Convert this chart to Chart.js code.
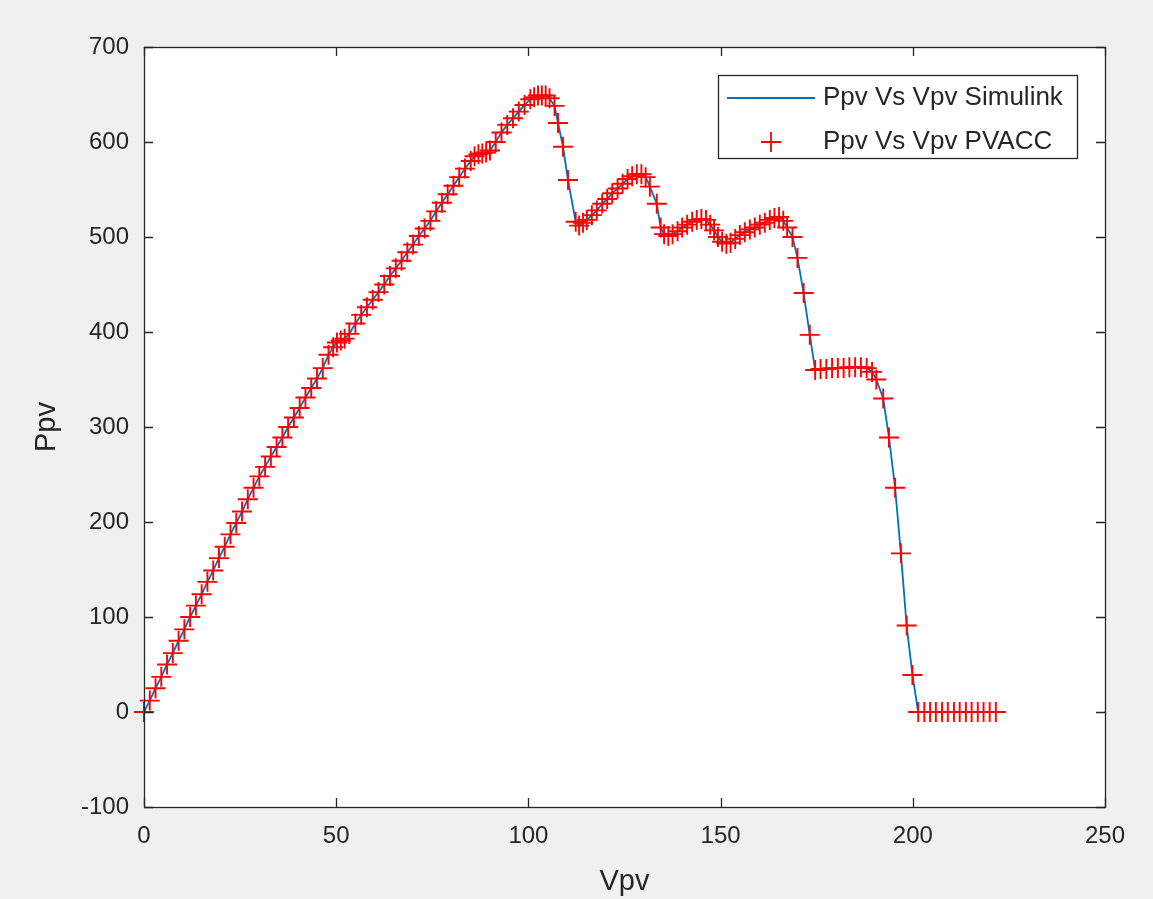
<!DOCTYPE html>
<html>
<head>
<meta charset="utf-8">
<title>Ppv Vs Vpv</title>
<script src="https://cdn.jsdelivr.net/npm/chart.js@4.4.0/dist/chart.umd.min.js"></script>
<style>
    html, body { margin: 0; padding: 0; background: #f0f0f0; }
    #wrap { width: 1153px; height: 899px; }
</style>
</head>
<body>
<div id="wrap"><canvas id="pv_chart"></canvas></div>
<script>
// PV array sweep: voltage (V) and power (W)
var vpv = [
    0, 1.5, 3, 4.5, 6, 7.5, 9, 10.5, 12, 13.5, 15, 16.5, 18, 19.5, 21, 22.5, 24, 25.5, 27, 28.5,
    30, 31.5, 33, 34.5, 36, 37.5, 39, 40.5, 42, 43.5, 45, 46.5, 48, 49.2, 50.2, 51.2, 52.2, 53.4,
    55, 56.5, 58, 59.5, 61, 62.5, 64, 65.5, 67, 68.5, 70, 71.5, 73, 74.5, 76, 77.5, 79, 80.5, 82, 83.5, 85, 86, 87, 88, 89, 90,
    91.5, 93, 94.5, 96, 97.5, 99, 100.5, 101.5, 102.5, 103.5, 104.5, 105.5, 106.8, 107.7, 109, 110.3, 112.3, 113.2, 114.2,
    115.2, 116.5, 117.8, 119.2, 120.5, 121.8, 123.2, 124.5, 125.8, 127, 128.2, 129.4, 130.5, 131.6, 133.4, 134.4,
    135.3, 136.4, 137.5, 138.8, 140, 141.3, 142.6, 143.8, 145, 146.2, 147.3, 148.3, 149.3, 150.4, 151.5, 152.6,
    153.8, 155, 156.3, 157.6, 158.9, 160.2, 161.5, 162.8, 164, 165.2, 166.3, 167.3, 168.7, 170, 171.6, 173.2, 174.6,
    176, 177.5, 179, 180.5, 182, 183.5, 185, 186.5, 188, 189.4, 190.5, 192.3, 193.8, 195.4, 196.9, 198.4, 199.9,
    201.4, 203, 204.5, 206, 207.6, 209.1, 210.7, 212.2, 213.8, 215.3, 216.9, 218.4, 220, 221.6
];
var ppv = [
    0, 12, 25, 37, 50, 62, 75, 87, 100, 112, 124, 137, 149, 162, 174, 187, 199, 211, 224, 236,
    248, 258, 269, 279, 289, 300, 310, 320, 331, 341, 351, 362, 376, 384, 389, 391, 393, 398,
    409, 418, 426, 434, 442, 450, 459, 467, 475, 484, 492, 501, 509, 517, 527, 536, 545, 554, 563, 572, 580, 585, 587, 588, 589, 591,
    600, 610, 618, 625, 632, 639, 645, 647, 649, 649, 649, 646, 638, 620, 595, 560, 516, 512, 515,
    518, 523, 528, 535, 540, 546, 551, 556, 561, 564, 566, 566, 563, 553, 535, 510,
    503, 501, 503, 506, 510, 513, 516, 518, 519, 518, 513, 507, 500, 495, 493, 494,
    498, 502, 505, 508, 510, 513, 515, 518, 520, 521, 517, 510, 500, 478, 441, 397, 360,
    361, 361, 362, 362, 362, 363, 363, 363, 362, 358, 350, 330, 289, 236, 167, 91, 39,
    0, 0, 0, 0, 0, 0, 0, 0, 0, 0, 0, 0, 0, 0
];

var seriesNames = ['Ppv Vs Vpv Simulink', 'Ppv Vs Vpv PVACC'];
var xTitle = 'Vpv';
var yTitle = 'Ppv';
var xRange = [0, 250], xStep = 50;
var yRange = [-100, 700], yStep = 100;

var lineColor = '#0072bd';
var markerColor = '#ff0000';
var axisColor = '#262626';
var fontFamily = '"Liberation Sans", Arial, Helvetica, sans-serif';

var points = vpv.map(function (v, i) { return { x: v, y: ppv[i] }; });

// white plot box, frame and inward ticks on all four sides
var axesBox = {
    id: 'axesBox',
    beforeDraw: function (chart) {
        var a = chart.chartArea, ctx = chart.ctx;
        ctx.save();
        ctx.fillStyle = '#ffffff';
        ctx.fillRect(a.left, a.top, a.right - a.left, a.bottom - a.top);
        ctx.restore();
    },
    afterDatasetsDraw: function (chart) {
        var a = chart.chartArea, ctx = chart.ctx;
        var sx = chart.scales.x, sy = chart.scales.y;
        var len = 9;
        ctx.save();
        ctx.strokeStyle = axisColor;
        ctx.lineWidth = 1.3;
        ctx.beginPath();
        sx.ticks.forEach(function (t) {
            var px = Math.round(sx.getPixelForValue(t.value)) + 0.5;
            ctx.moveTo(px, a.bottom); ctx.lineTo(px, a.bottom - len);
            ctx.moveTo(px, a.top); ctx.lineTo(px, a.top + len);
        });
        sy.ticks.forEach(function (t) {
            var py = Math.round(sy.getPixelForValue(t.value)) + 0.5;
            ctx.moveTo(a.left, py); ctx.lineTo(a.left + len, py);
            ctx.moveTo(a.right, py); ctx.lineTo(a.right - len, py);
        });
        ctx.stroke();
        ctx.strokeRect(a.left + 0.5, a.top + 0.5, a.right - a.left, a.bottom - a.top);
        ctx.restore();
    }
};

// boxed legend in the upper right corner of the axes
var boxLegend = {
    id: 'boxLegend',
    afterDraw: function (chart) {
        var a = chart.chartArea, ctx = chart.ctx;
        var w = 359, h = 83;
        var right = a.right - 28, top = a.top + 28, left = right - w;
        ctx.save();
        ctx.fillStyle = '#ffffff';
        ctx.fillRect(left, top, w, h);
        ctx.strokeStyle = axisColor;
        ctx.lineWidth = 1.3;
        ctx.strokeRect(left + 0.5, top + 0.5, w, h);

        var row1 = top + 23, row2 = top + 67;
        ctx.strokeStyle = lineColor;
        ctx.lineWidth = 2;
        ctx.beginPath();
        ctx.moveTo(left + 9, row1); ctx.lineTo(left + 97, row1);
        ctx.stroke();

        var cx = left + 53;
        ctx.strokeStyle = markerColor;
        ctx.lineWidth = 1.8;
        ctx.beginPath();
        ctx.moveTo(cx - 10, row2); ctx.lineTo(cx + 10, row2);
        ctx.moveTo(cx, row2 - 10); ctx.lineTo(cx, row2 + 10);
        ctx.stroke();

        ctx.fillStyle = axisColor;
        ctx.font = '26px ' + fontFamily;
        ctx.textBaseline = 'middle';
        ctx.textAlign = 'left';
        ctx.fillText(seriesNames[0], left + 105, row1);
        ctx.fillText(seriesNames[1], left + 105, row2);
        ctx.restore();
    }
};

new Chart(document.getElementById('pv_chart'), {
    type: 'scatter',
    data: {
        datasets: [
            {
                label: seriesNames[0],
                data: points,
                showLine: true,
                borderColor: lineColor,
                borderWidth: 1.8,
                pointRadius: 0,
                tension: 0,
                clip: false,
                order: 2
            },
            {
                label: seriesNames[1],
                data: points,
                showLine: false,
                pointStyle: 'cross',
                pointRadius: 10,
                pointBorderWidth: 1.9,
                pointBorderColor: markerColor,
                pointBackgroundColor: markerColor,
                clip: false,
                order: 1
            }
        ]
    },
    options: {
        responsive: true,
        maintainAspectRatio: false,
        animation: false,
        layout: { padding: { top: 47, right: 48, left: 0, bottom: 0 } },
        plugins: {
            legend: { display: false },
            tooltip: { enabled: false }
        },
        scales: {
            x: {
                type: 'linear',
                min: xRange[0],
                max: xRange[1],
                ticks: { stepSize: xStep, color: axisColor, font: { family: fontFamily, size: 24 }, padding: 15 },
                grid: { display: false, drawTicks: false },
                border: { display: false },
                title: { display: true, text: xTitle, color: axisColor, font: { family: fontFamily, size: 29 }, padding: { top: 0, bottom: 0 } },
                afterFit: function (s) { s.height = 92; }
            },
            y: {
                type: 'linear',
                min: yRange[0],
                max: yRange[1],
                ticks: { stepSize: yStep, color: axisColor, font: { family: fontFamily, size: 24 }, padding: 15 },
                grid: { display: false, drawTicks: false },
                border: { display: false },
                title: { display: true, text: yTitle, color: axisColor, font: { family: fontFamily, size: 29 }, padding: { top: 30, bottom: 0 } },
                afterFit: function (s) { s.width = 144; }
            }
        }
    },
    plugins: [axesBox, boxLegend]
});
</script>
</body>
</html>
